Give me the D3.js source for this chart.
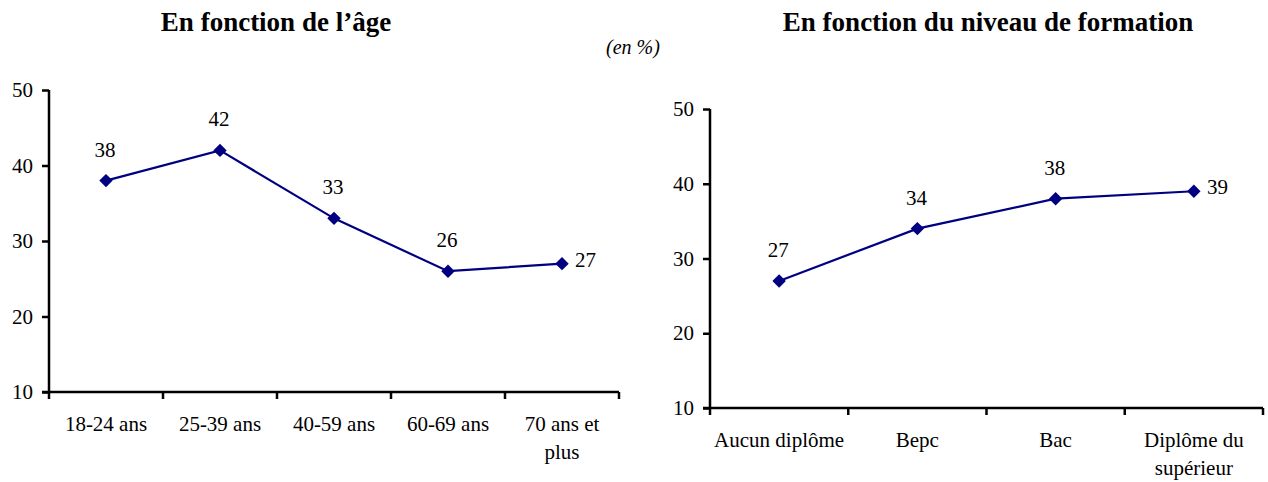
<!DOCTYPE html>
<html><head><meta charset="utf-8">
<script src="https://cdn.jsdelivr.net/npm/d3@7"></script>
<style>body{margin:0;background:#fff}svg{display:block}</style>
</head><body>
<svg id="c" width="1268" height="482" font-family="Liberation Serif, Times New Roman, serif"></svg>
<script>
const ageCategories = ["18-24 ans", "25-39 ans", "40-59 ans", "60-69 ans", "70 ans et plus"];
const ageValues = [38, 42, 33, 26, 27];
const eduCategories = ["Aucun diplôme", "Bepc", "Bac", "Diplôme du supérieur"];
const eduValues = [27, 34, 38, 39];
const yTicks = [10, 20, 30, 40, 50];
const titles = ["En fonction de l\u2019âge", "En fonction du niveau de formation"];
const unitLabel = "(en %)";

const FF = "Liberation Serif";
const svg = d3.select("#c");
const color = "#000080";

function wrapLines(label, maxChars) {
  const words = label.split(" ");
  const lines = []; let cur = "";
  words.forEach(w => {
    const t = cur ? cur + " " + w : w;
    if (t.length > maxChars && cur) { lines.push(cur); cur = w; } else cur = t;
  });
  if (cur) lines.push(cur);
  return lines;
}

function drawPanel(cfg) {
  const g = svg.append("g");
  const x = d3.scaleBand().domain(cfg.cats).range([cfg.x0, cfg.x1]).padding(0);
  const y = d3.scaleLinear().domain([10, 50]).range([cfg.yBottom, cfg.yTop]);

  const ya = g.append("g").attr("transform", `translate(${cfg.x0},0)`)
    .call(d3.axisLeft(y).tickValues(yTicks).tickSize(7).tickPadding(9));
  ya.attr("font-family", FF).attr("font-size", 21);
  ya.select(".domain").attr("stroke", "#000").attr("stroke-width", 2.5).attr("d", `M0,${cfg.yTop}V${cfg.yBottom}`);
  ya.selectAll(".tick line").attr("stroke", "#000").attr("stroke-width", 2.5);
  ya.selectAll(".tick text").attr("fill", "#000");

  const xa = g.append("g").attr("transform", `translate(0,${cfg.yBottom})`);
  xa.append("line").attr("x1", cfg.x0 - 7).attr("x2", cfg.x1).attr("stroke", "#000").attr("stroke-width", 2.5);
  const bounds = cfg.cats.map(c => x(c)).concat([cfg.x1]);
  xa.selectAll("line.tk").data(bounds).join("line").attr("class", "tk")
    .attr("x1", d => d).attr("x2", d => d).attr("y1", 0).attr("y2", 7)
    .attr("stroke", "#000").attr("stroke-width", 2.5);
  cfg.cats.forEach(c => {
    const lines = wrapLines(c, cfg.wrap);
    const cx = x(c) + x.bandwidth() / 2;
    const t = xa.append("text").attr("text-anchor", "middle").attr("font-size", 21)
      .attr("font-family", FF).attr("x", cx).attr("y", 39);
    lines.forEach((l, i) => t.append("tspan").attr("x", cx).attr("dy", i ? 28 : 0).text(l));
  });

  const px = c => x(c) + x.bandwidth() / 2;
  const data = cfg.cats.map((c, i) => ({c, v: cfg.vals[i], i}));
  g.append("path").datum(data)
    .attr("d", d3.line().x(d => px(d.c)).y(d => y(d.v)))
    .attr("fill", "none").attr("stroke", color).attr("stroke-width", 2.2);
  g.selectAll("path.m").data(data).join("path").attr("class", "m")
    .attr("d", d3.symbol(d3.symbolDiamond2, 115)())
    .attr("transform", d => `translate(${px(d.c)},${y(d.v)})`)
    .attr("fill", color);
  const last = data.length - 1;
  g.selectAll("text.lbl").data(data).join("text").attr("class", "lbl")
    .attr("font-size", 21).attr("font-family", FF)
    .attr("text-anchor", d => d.i === last ? "start" : "middle")
    .attr("x", d => d.i === last ? px(d.c) + 13 : px(d.c) - 1)
    .attr("y", d => d.i === last ? y(d.v) + 3 : y(d.v) - 24)
    .text(d => d.v);

  svg.append("text").attr("x", cfg.titleX).attr("y", 31).attr("text-anchor", "middle")
    .attr("font-family", FF).attr("font-size", 27).attr("font-weight", "bold").text(cfg.title);
}

drawPanel({cats: ageCategories, vals: ageValues, x0: 49, x1: 619, yTop: 90, yBottom: 392, wrap: 10, title: titles[0], titleX: 276});
drawPanel({cats: eduCategories, vals: eduValues, x0: 710, x1: 1263, yTop: 109, yBottom: 408, wrap: 14, title: titles[1], titleX: 988});

svg.append("text").attr("x", 633).attr("y", 54).attr("text-anchor", "middle")
  .attr("font-family", FF).attr("font-size", 20).attr("font-style", "italic").text(unitLabel);
</script>
</body></html>
